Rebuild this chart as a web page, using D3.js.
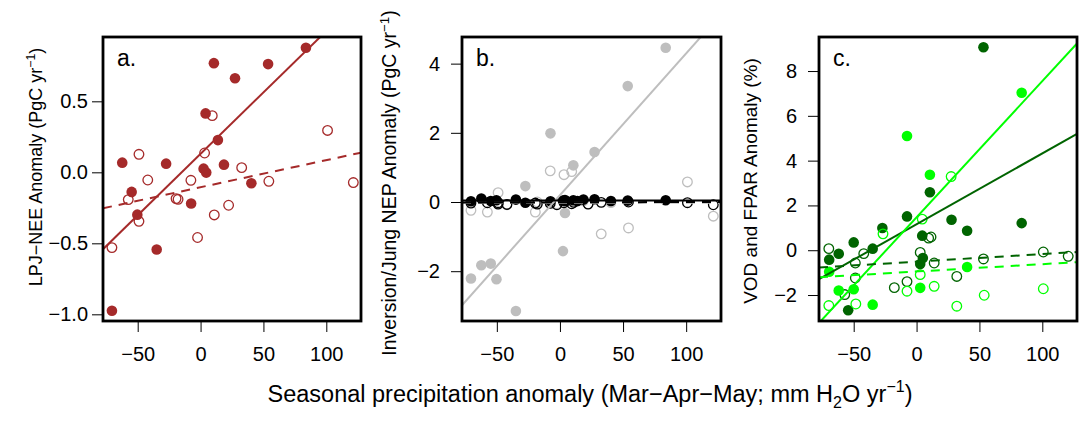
<!DOCTYPE html>
<html>
<head>
<meta charset="utf-8">
<script src="https://cdn.jsdelivr.net/npm/d3@7"></script>
<style>
  body { margin: 0; background: #fff; }
  text { font-family: "Liberation Sans", Arial, Helvetica, sans-serif; fill: #000; }
</style>
</head>
<body>
<div id="chart"></div>
<script>
const width = 1080;
const height = 421;

// Seasonal precipitation anomaly (mm H2O / yr), two groups of years
const precipFilled = [-70.5, -62.3, -54.8, -50.3, -34.9, -27.4, -7.5, 2.4, 4.0, 4.5, 10.6, 13.8, 18.6, 27.4, 40.4, 53.7, 83.8];
const precipOpen = [-70.5, -57.5, -49, -49, -42, -19.5, -17.9, -7.7, -2.4, 3.2, 9.3, 10.9, 22.3, 32.7, 54.3, 101, 121.5];

// a. LPJ-NEE anomaly
const lpjFilled = [-0.975, 0.068, -0.138, -0.298, -0.544, 0.061, -0.22, 0.026, 0.415, -0.002, 0.769, 0.227, 0.054, 0.663, -0.077, 0.762, 0.877];
const lpjOpen = [-0.53, -0.192, 0.127, -0.345, -0.054, -0.185, -0.19, -0.056, -0.459, 0.136, 0.399, -0.30, -0.232, 0.033, -0.063, 0.295, -0.072];
const lpjFitFilled = [0.130, 0.00865];   // intercept, slope
const lpjFitOpen = [-0.105, 0.00191];

// b. Inversion (gray) / Jung (black) NEP anomaly
const invFilled = [-2.21, -1.83, -1.78, -2.23, -3.15, 0.46, 1.985, -1.42, -0.32, 0.0, 1.06, 0.02, 0.03, 1.445, -0.02, 3.35, 4.46];
const invOpen = [-0.24, -0.29, 0.27, -0.05, -0.08, -0.29, 0.0, 0.9, -0.05, 0.79, 0.88, 0.02, -0.05, -0.92, -0.75, 0.58, -0.41];
const jungFilled = [0.02, 0.1, 0.03, 0.05, 0.07, -0.02, 0.02, 0.04, 0.06, 0.03, 0.05, 0.03, 0.07, 0.08, 0.03, 0.04, 0.05];
const jungOpen = [-0.03, -0.02, -0.06, -0.02, -0.07, -0.03, -0.06, -0.04, -0.08, -0.02, -0.05, -0.01, -0.06, -0.01, 0.0, -0.02, -0.08];
const invFitFilled = [0.196, 0.041];
const invFitOpen = [-0.02, 0.0];
const jungFitFilled = [0.04, 0.0];
const jungFitOpen = [-0.01, 0.0001];

// c. VOD (dark green) and FPAR (green) anomaly
const vodFilledX = [-69.5, -61.9, -54.4, -50, -34.9, -27.2, -7.6, 2.9, 4.5, 5, 10.6, 27.8, 40.2, 53.2, 83.6];
const vodFilledY = [-0.42, -0.16, -2.68, 0.35, 0.07, 0.99, 1.51, -0.62, 0.65, -0.35, 2.59, 1.36, 0.87, 9.06, 1.21];
const vodOpenX = [-69.8, -57.1, -48.7, -48.7, -42, -17.7, -7.6, 2.9, 9.6, 11.5, 14, 32, 53.2, 100.8, 120.6];
const vodOpenY = [0.07, -1.98, -0.57, -1.24, -0.15, -1.67, -1.4, -0.1, 0.54, 0.59, -0.57, -1.17, -0.39, -0.08, -0.27];
const fparFilledX = [-69.5, -61.9, -50, -34.9, -7.6, 2.9, 10.6, 40.2, 83.6];
const fparFilledY = [-0.96, -1.8, -1.74, -2.43, 5.1, -1.68, 3.37, -0.75, 7.03];
const fparOpenX = [-69.8, -48.3, -26.7, -7.6, 2.9, 4.5, 14, 27.5, 32, 53.8, 100.8];
const fparOpenY = [-2.47, -2.4, 0.73, -1.83, -1.09, 1.39, -1.61, 3.29, -2.5, -2.01, -1.72];
const vodFitFilled = [1.16, 0.0316];
const vodFitOpen = [-0.51, 0.00337];
const fparFitFilled = [1.47, 0.0608];
const fparFitOpen = [-0.95, 0.00328];

// axes
const xDomain = [-77.6, 127.6];
const xTicks = [-50, 0, 50, 100];
const yDomainA = [-1.047, 0.953], yTicksA = [-1.0, -0.5, 0.0, 0.5];
const yDomainB = [-3.44, 4.77], yTicksB = [-2, 0, 2, 4];
const yDomainC = [-3.16, 9.52], yTicksC = [-2, 0, 2, 4, 6, 8];

const BROWN = "#A52A2A", GRAY = "#BEBEBE", DKGREEN = "#006400", GREEN = "#00FF00";

const plotTop = 37, plotBottom = 321;

const svg = d3.select("#chart")
    .append("svg")
    .attr("width", width)
    .attr("height", height);

function zip(xs, ys) {
    return xs.map((x, i) => ({x: x, y: ys[i]}));
}

function drawPanel(p) {
    const x = d3.scaleLinear().domain(xDomain).range([p.left, p.right]);
    const y = d3.scaleLinear().domain(p.yDomain).range([plotBottom, plotTop]);
    const g = svg.append("g");

    const clipId = "clip-" + p.letter;
    svg.append("clipPath").attr("id", clipId)
        .append("rect")
        .attr("x", p.left).attr("y", plotTop)
        .attr("width", p.right - p.left).attr("height", plotBottom - plotTop);

    // axes
    const xAxis = d3.axisBottom(x).tickValues(xTicks).tickSize(11).tickPadding(15)
        .tickFormat(d3.format("d"));
    g.append("g").attr("transform", `translate(0,${plotBottom})`).call(xAxis)
        .call(a => a.select(".domain").remove())
        .call(a => a.selectAll("text").attr("font-size", 20).attr("font-family", null));

    const yAxis = d3.axisLeft(y).tickValues(p.yTicks).tickSize(11).tickPadding(p.labelPad)
        .tickFormat(d3.format(p.fmt));
    g.append("g").attr("transform", `translate(${p.left},0)`).call(yAxis)
        .call(a => a.select(".domain").remove())
        .call(a => a.selectAll("text").attr("font-size", 20).attr("font-family", null));

    const plot = g.append("g").attr("clip-path", `url(#${clipId})`);

    // points
    p.points.forEach(s => {
        plot.append("g").selectAll("circle")
            .data(zip(s.x, s.y).filter(d => d.y != null))
            .enter().append("circle")
            .attr("cx", d => x(d.x))
            .attr("cy", d => y(d.y))
            .attr("r", s.filled ? 5.3 : 4.8)
            .attr("fill", s.filled ? s.color : "none")
            .attr("stroke", s.filled ? "none" : s.color)
            .attr("stroke-width", 1.3);
    });

    // regression lines
    const line = d3.line().x(d => x(d[0])).y(d => y(d[1]));
    p.fits.forEach(f => {
        const pts = xDomain.map(v => [v, f.coef[0] + f.coef[1] * v]);
        plot.append("path")
            .attr("d", line(pts))
            .attr("fill", "none")
            .attr("stroke", f.color)
            .attr("stroke-width", 2)
            .attr("stroke-dasharray", f.dashed ? "9,7" : null);
    });

    // box
    g.append("rect")
        .attr("x", p.left).attr("y", plotTop)
        .attr("width", p.right - p.left).attr("height", plotBottom - plotTop)
        .attr("fill", "none").attr("stroke", "#000").attr("stroke-width", 2.8);

    // panel letter
    g.append("text")
        .attr("x", p.left + 14).attr("y", plotTop + 29)
        .attr("font-size", 23)
        .text(p.letter + ".");

    // y title
    const t = g.append("text")
        .attr("transform", `translate(${p.titleX},${p.titleY}) rotate(-90)`)
        .attr("text-anchor", "middle")
        .attr("font-size", p.titleSize);
    t.append("tspan").text(p.title);
    if (p.unitSup) {
        t.append("tspan").text("(PgC yr");
        t.append("tspan").attr("font-size", p.titleSize * 0.68).attr("dy", -7).text("\u22121");
        t.append("tspan").attr("dy", 7).text(")");
    }
}

const panels = [
    {
        letter: "a", left: 103, right: 361, yDomain: yDomainA, yTicks: yTicksA, fmt: ".1f", labelPad: 4,
        title: "LPJ\u2212NEE Anomaly ", unitSup: true, titleX: 42, titleY: 167, titleSize: 18,
        points: [
            {x: precipOpen, y: lpjOpen, color: BROWN, filled: false},
            {x: precipFilled, y: lpjFilled, color: BROWN, filled: true}
        ],
        fits: [
            {coef: lpjFitFilled, color: BROWN, dashed: false},
            {coef: lpjFitOpen, color: BROWN, dashed: true}
        ]
    },
    {
        letter: "b", left: 462, right: 721, yDomain: yDomainB, yTicks: yTicksB, fmt: "d", labelPad: 11,
        title: "Inversion/Jung NEP Anomaly ", unitSup: true, titleX: 396, titleY: 183, titleSize: 19.5,
        points: [
            {x: precipFilled, y: invFilled, color: GRAY, filled: true},
            {x: precipOpen, y: invOpen, color: GRAY, filled: false},
            {x: precipFilled, y: jungFilled, color: "#000", filled: true},
            {x: precipOpen, y: jungOpen, color: "#000", filled: false}
        ],
        fits: [
            {coef: invFitFilled, color: GRAY, dashed: false},
            {coef: invFitOpen, color: GRAY, dashed: true},
            {coef: jungFitOpen, color: "#000", dashed: true},
            {coef: jungFitFilled, color: "#000", dashed: false}
        ]
    },
    {
        letter: "c", left: 819, right: 1077, yDomain: yDomainC, yTicks: yTicksC, fmt: "d", labelPad: 11,
        title: "VOD and FPAR Anomaly (%)", unitSup: false, titleX: 757, titleY: 181, titleSize: 19,
        points: [
            {x: vodFilledX, y: vodFilledY, color: DKGREEN, filled: true},
            {x: vodOpenX, y: vodOpenY, color: DKGREEN, filled: false},
            {x: fparFilledX, y: fparFilledY, color: GREEN, filled: true},
            {x: fparOpenX, y: fparOpenY, color: GREEN, filled: false}
        ],
        fits: [
            {coef: vodFitFilled, color: DKGREEN, dashed: false},
            {coef: fparFitFilled, color: GREEN, dashed: false},
            {coef: vodFitOpen, color: DKGREEN, dashed: true},
            {coef: fparFitOpen, color: GREEN, dashed: true}
        ]
    }
];

panels.forEach(drawPanel);

// shared x title
const xt = svg.append("text")
    .attr("x", 590).attr("y", 402)
    .attr("text-anchor", "middle")
    .attr("font-size", 23.5);
xt.append("tspan").text("Seasonal precipitation anomaly (Mar\u2212Apr\u2212May; mm H");
xt.append("tspan").attr("font-size", 16).attr("dy", 6).text("2");
xt.append("tspan").attr("dy", -6).text("O yr");
xt.append("tspan").attr("font-size", 16).attr("dy", -10).text("\u22121");
xt.append("tspan").attr("dy", 10).text(")");
</script>
</body>
</html>
